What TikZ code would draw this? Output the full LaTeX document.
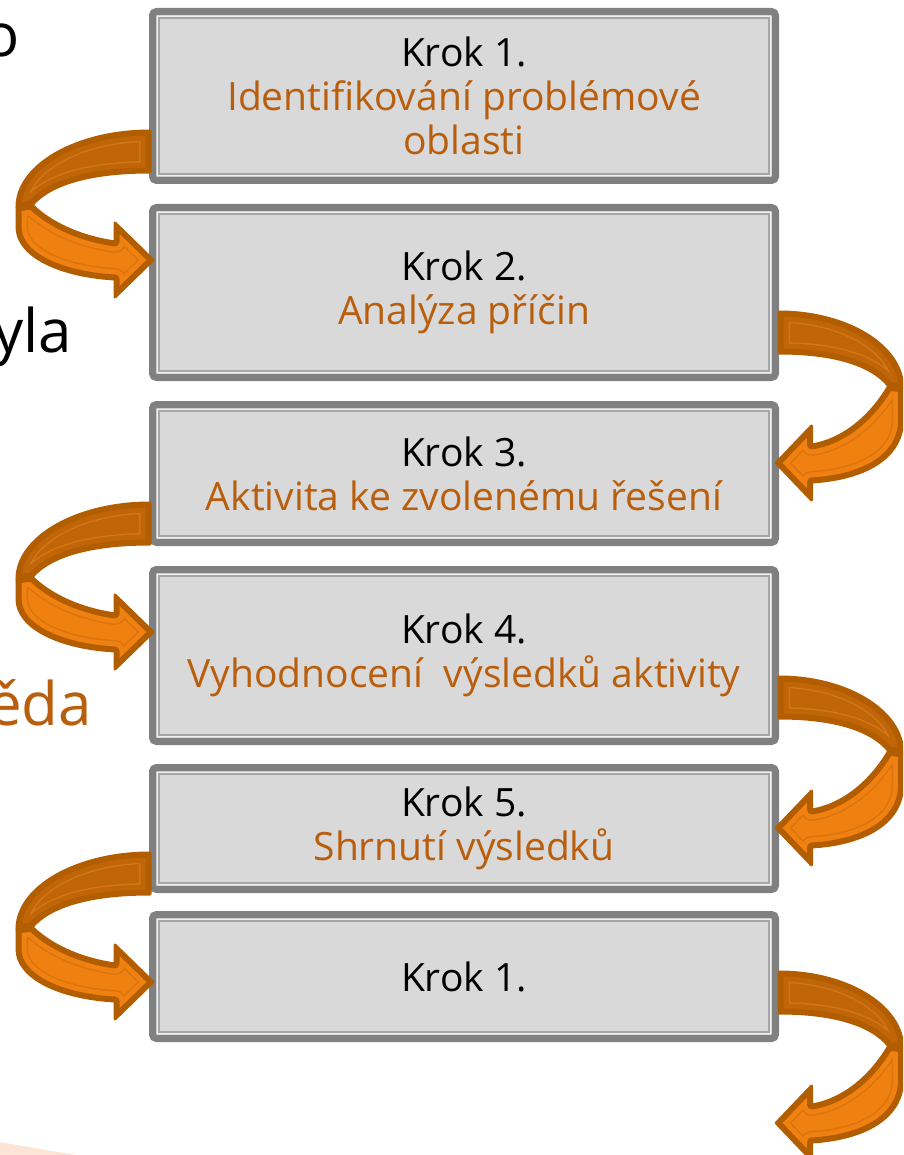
\documentclass[tikz,border=0pt]{standalone}
\usepackage{fontspec}
\setmainfont{Open Sans}
\usetikzlibrary{calc}

\definecolor{boxfill}{HTML}{D9D9D9}
\definecolor{boxgray}{HTML}{808080}
\definecolor{boxline}{HTML}{A6A6A6}
\definecolor{boxlight}{HTML}{EFEFEF}
\definecolor{titleorange}{HTML}{B95E0C}
\definecolor{arrowedge}{HTML}{B25E00}
\definecolor{arrowdark}{HTML}{C06608}
\definecolor{arrowdarkline}{HTML}{D27616}
\definecolor{arrowlight}{HTML}{F08010}
\definecolor{arrowlightline}{HTML}{DA7410}
\definecolor{peach}{HTML}{FCE4D6}

\newcommand{\boxfont}{\fontsize{39}{44}\selectfont}
\newcommand{\bigfont}{\fontsize{60}{70}\selectfont}

% one half of a turning arrow: fill, inner line colour, path
\newcommand{\ribbon}[3]{%
  \fill[#1] #3;
  \begin{scope}
    \clip #3;
    \draw[#2, line width=22, line join=round] #3;
    \draw[#1, line width=19, line join=round] #3;
    \draw[arrowedge, line width=9, line join=round] #3;
  \end{scope}
  \draw[arrowedge, line width=3, line join=round] #3;
}

% turning arrow: start point, xscale, extra drop
\newcommand{\uturn}[3]{%
  \begin{scope}[shift={#1}, xscale=#2]
    \ribbon{arrowdark}{arrowdarkline}{(0,0) .. controls (-73,0) and (-133,34) .. (-133,76) -- (-118,74) .. controls (-100,53) and (-60,41) .. (0,41) -- cycle}
    \ribbon{arrowlight}{arrowlightline}{(-133,76) -- (-133,{96+#3/2}) .. controls (-133,{125+#3}) and (-90,{145+#3}) .. (-35,{148+#3}) -- (-35,{166+#3}) -- (3,{129+#3}) -- (-35,{92+#3}) -- (-35,{111+#3}) .. controls (-70,{106+#3}) and (-100,{92+#3/2}) .. (-118,74) -- cycle}
  \end{scope}}

\tikzset{
  krokbox/.style={draw=boxgray, fill=boxfill, line width=7, rounded corners=4,
    minimum width=623, outer sep=0, inner sep=0, align=center, font=\boxfont},
  fragment/.style={anchor=base east, inner sep=0, font=\bigfont},
}

\begin{document}
\begin{tikzpicture}[x=1pt, y=-1pt]
  \useasboundingbox (0,0) rectangle (903,1155);
  \clip (0,0) rectangle (903,1155);

  % left-over words of the slide behind
  \node[fragment] (fragO) at (20,57) {o};
  \node[fragment] (fragYla) at (72,352) {yla};
  \node[fragment] (fragN) at (4,583) {n};
  \node[fragment, titleorange] (fragEda) at (92,725) {ěda};
  \fill[peach] (0,1142) -- (75,1155) -- (0,1155) -- cycle;

  % steps
  \node[krokbox, minimum height=169] (krok1) at (464,96)
    {Krok 1.\\\textcolor{titleorange}{Identifikování problémové}\\\textcolor{titleorange}{oblasti}};
  \node[krokbox, minimum height=170] (krok2) at (464,292.5)
    {Krok 2.\\\textcolor{titleorange}{Analýza příčin}};
  \node[krokbox, minimum height=138] (krok3) at (464,473.5)
    {Krok 3.\\\textcolor{titleorange}{Aktivita ke zvolenému řešení}};
  \node[krokbox, minimum height=172] (krok4) at (464,655.5)
    {Krok 4.\\\textcolor{titleorange}{Vyhodnocení~ výsledků aktivity}};
  \node[krokbox, minimum height=122] (krok5) at (464,828.5)
    {Krok 5.\\\textcolor{titleorange}{Shrnutí výsledků}};
  \node[krokbox, minimum height=124] (krok6) at (464,976.5)
    {Krok 1.};

  % inner frame lines
  \foreach \k in {1,...,6} {
    \draw[boxlight, line width=1.5] ([shift={(4.8,4.8)}]krok\k.north west) rectangle ([shift={(-4.8,-4.8)}]krok\k.south east);
    \draw[boxline, line width=1.5] ([shift={(6.3,6.3)}]krok\k.north west) rectangle ([shift={(-6.3,-6.3)}]krok\k.south east);
  }

  % turning arrows
  \uturn{($(krok1.south west)+(-2.5,-49.5)$)}{1}{0}
  \uturn{($(krok3.south west)+(-2.5,-39.5)$)}{1}{0}
  \uturn{($(krok5.south west)+(-2.5,-36.5)$)}{1}{0}
  \uturn{($(krok2.south east)+(3.5,-65.5)$)}{-0.93}{22}
  \uturn{($(krok4.south east)+(3.5,-64.5)$)}{-0.93}{22}
  \uturn{($(krok6.south east)+(3.5,-66.5)$)}{-0.93}{22}
\end{tikzpicture}
\end{document}
